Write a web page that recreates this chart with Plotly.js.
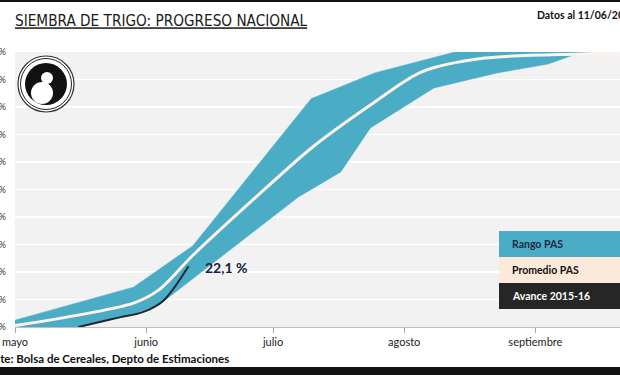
<!DOCTYPE html>
<html>
<head>
<meta charset="utf-8">
<script src="https://cdn.plot.ly/plotly-3.0.1.min.js"></script>
<style>
  html, body { margin: 0; padding: 0; overflow: hidden; background: #fff; }
  #chart { position: absolute; left: -28px; top: 0; width: 668px; height: 375px; }
</style>
</head>
<body>
<div id="chart"></div>
<script>
// ---- Data ----
const monthTicks = ['2015-05-01', '2015-06-01', '2015-07-01', '2015-08-01', '2015-09-01'];
const monthLabels = ['mayo', 'junio', 'julio', 'agosto', 'septiembre'];

// Rango PAS: upper edge
const rangoSupFechas = ['2015-05-01', '2015-05-29', '2015-06-12', '2015-07-10', '2015-07-25', '2015-08-13', '2015-09-30'];
const rangoSupValores = [2.5, 14.5, 29.5, 83, 92.4, 100, 100];
// Rango PAS: lower edge
const rangoInfFechas = ['2015-05-01', '2015-05-16', '2015-05-29', '2015-06-04', '2015-06-13', '2015-07-07', '2015-07-17', '2015-07-24', '2015-08-08', '2015-08-23', '2015-09-04', '2015-09-10', '2015-09-14', '2015-09-30'];
const rangoInfValores = [0, 0, 4.7, 8, 18.9, 47.3, 56.4, 72.4, 86.9, 92.4, 95.6, 98.9, 100, 100];

// Promedio PAS
const promedioFechas = ['2015-05-01', '2015-05-29', '2015-06-04', '2015-06-12', '2015-06-27', '2015-07-10', '2015-07-24', '2015-08-05', '2015-08-20', '2015-09-12', '2015-09-30'];
const promedioValores = [0.5, 8.7, 13.5, 26, 47.3, 65, 80.7, 92.7, 97.8, 99.3, 100];

// Avance 2015-16
const avanceFechas = ['2015-05-16', '2015-05-21', '2015-05-26', '2015-05-31', '2015-06-05', '2015-06-11'];
const avanceValores = [0, 1.8, 3.6, 5.3, 9.5, 22.1];

const legendItems = ['Rango PAS', 'Promedio PAS', 'Avance 2015-16'];

// ---- Layout geometry (plotly px) ----
const W = 668, H = 375;
const mL = 43, mR = 20, mT = 52, mB = 48;
const pw = W - mL - mR, ph = H - mT - mB;
const px = x => (x - mL) / pw;          // plotly px -> paper x
const py = y => (H - mB - y) / ph;      // plotly px -> paper y
const OFF = 28;                          // page offset
const pgx = x => px(x + OFF);            // page px -> paper x

const BLUE = '#4bacc6';
const FONT = 'Lato, sans-serif';

const traces = [
  {
    x: rangoSupFechas.concat(rangoInfFechas.slice().reverse()),
    y: rangoSupValores.concat(rangoInfValores.slice().reverse()),
    type: 'scatter', mode: 'lines', fill: 'toself',
    fillcolor: BLUE, line: {color: BLUE, width: 0.5},
    name: legendItems[0], hoverinfo: 'skip'
  },
  {
    x: promedioFechas, y: promedioValores,
    type: 'scatter', mode: 'lines',
    line: {color: '#fdf3ec', width: 3, shape: 'spline', smoothing: 0.8},
    name: legendItems[1]
  },
  {
    x: avanceFechas, y: avanceValores,
    type: 'scatter', mode: 'lines',
    line: {color: '#1f282e', width: 2, shape: 'spline', smoothing: 0.9},
    name: legendItems[2]
  }
];

function circ(cx, cy, r, fill, lineColor, lw) {
  return {type: 'circle', xref: 'paper', yref: 'paper',
    x0: pgx(cx - r), x1: pgx(cx + r), y0: py(cy + r), y1: py(cy - r),
    fillcolor: fill, line: {color: lineColor || fill, width: lw || 0}, layer: 'above'};
}
function rect(x0, y0, x1, y1, fill) {
  return {type: 'rect', xref: 'paper', yref: 'paper',
    x0: pgx(x0), x1: pgx(x1), y0: py(y1), y1: py(y0),
    fillcolor: fill, line: {width: 0}, layer: 'above'};
}

const shapes = [
  rect(-40, 0, 660, 2, '#111'),
  rect(-40, 367, 660, 380, '#111'),
  rect(499, 231, 640, 257, BLUE),
  rect(499, 257, 640, 283, '#fde9d9'),
  rect(499, 283, 640, 309, '#262626'),
  circ(46, 84, 28, '#ffffff', '#333', 1.2),
  circ(46, 84, 21, '#111', '#111', 0),
  circ(46, 84, 25.5, 'rgba(0,0,0,0)', '#222', 1),
  circ(42, 93, 11, '#ffffff', '#fff', 0),
  circ(47, 78, 6, '#ffffff', '#fff', 0)
];

const annotations = [
  {text: '<b>Datos al 11/06/2015</b>', xref: 'paper', yref: 'paper',
   x: pgx(535), y: py(15), xanchor: 'left', yanchor: 'middle', showarrow: false,
   font: {family: FONT, size: 10.5, color: '#111'}},
  {text: '<b>Fuente: Bolsa de Cereales, Depto de Estimaciones</b>', xref: 'paper', yref: 'paper',
   x: pgx(-27), y: py(358), xanchor: 'left', yanchor: 'middle', showarrow: false,
   font: {family: FONT, size: 11.5, color: '#111'}},
  {text: '<b>22,1 %</b>', x: avanceFechas[avanceFechas.length - 1], y: avanceValores[avanceValores.length - 1],
   xanchor: 'left', yanchor: 'middle', xshift: 15, yshift: -1, showarrow: false,
   font: {family: FONT, size: 14, color: '#17203a'}},
  {text: '<b>' + legendItems[0] + '</b>', xref: 'paper', yref: 'paper', x: pgx(510), y: py(244),
   xanchor: 'left', yanchor: 'middle', showarrow: false,
   font: {family: FONT, size: 10.5, color: '#1b2a44'}},
  {text: '<b>' + legendItems[1] + '</b>', xref: 'paper', yref: 'paper', x: pgx(510), y: py(270),
   xanchor: 'left', yanchor: 'middle', showarrow: false,
   font: {family: FONT, size: 10.5, color: '#111'}},
  {text: '<b>' + legendItems[2] + '</b>', xref: 'paper', yref: 'paper', x: pgx(510), y: py(296),
   xanchor: 'left', yanchor: 'middle', showarrow: false,
   font: {family: FONT, size: 10.5, color: '#ffffff'}}
];

const layout = {
  width: W, height: H,
  margin: {l: mL, r: mR, t: mT, b: mB},
  paper_bgcolor: '#ffffff', plot_bgcolor: '#f2f2f2',
  showlegend: false,
  title: {text: '<u>SIEMBRA DE TRIGO: PROGRESO NACIONAL</u>', x: (15 + OFF) / W, xanchor: 'left',
          y: 1 - 21 / H, yanchor: 'middle', yref: 'container',
          font: {family: '"Liberation Sans Narrow", "DejaVu Sans Condensed", Lato, sans-serif', size: 15.2, color: '#1a1a1a'}},
  xaxis: {type: 'date', range: ['2015-05-01', '2015-09-21'],
          tickvals: monthTicks, ticktext: monthLabels,
          ticks: 'outside', ticklen: 5, tickcolor: '#a6a6a6',
          showline: true, linecolor: '#bfbfbf', linewidth: 1,
          showgrid: false, zeroline: false,
          tickfont: {family: FONT, size: 11, color: '#222'}},
  yaxis: {range: [0, 100], dtick: 10, ticksuffix: '%',
          showgrid: true, gridcolor: '#ffffff', gridwidth: 1.5,
          zeroline: false, showline: false, ticks: '',
          ticklabelstandoff: 8,
          tickfont: {family: FONT, size: 9, color: '#333'}},
  shapes: shapes,
  annotations: annotations
};

Plotly.newPlot('chart', traces, layout, {displayModeBar: false, staticPlot: true});
</script>
</body>
</html>
